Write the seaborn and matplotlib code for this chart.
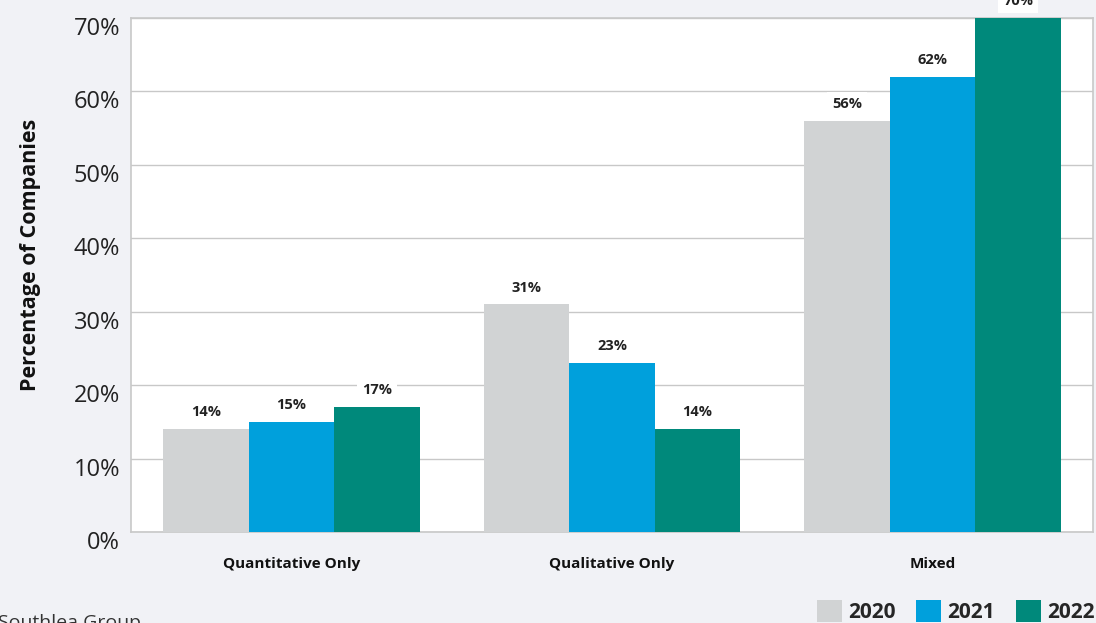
import matplotlib
matplotlib.use("Agg")
import matplotlib.pyplot as plt
import matplotlib.transforms as mtrans
import seaborn as sns
import pandas as pd
from matplotlib.patches import Patch

categories = ["Quantitative Only", "Qualitative Only", "Mixed"]
years = ["2020", "2021", "2022"]
values_2020 = [14, 31, 56]
values_2021 = [15, 23, 62]
values_2022 = [17, 14, 70]
yticks = [0, 10, 20, 30, 40, 50, 60, 70]
colors = ["#d1d3d4", "#00a0dc", "#00897b"]

rows = []
for yr, vals in zip(years, [values_2020, values_2021, values_2022]):
    for c, v in zip(categories, vals):
        rows.append({"Category": c, "Year": yr, "Value": v})
df = pd.DataFrame(rows)

sns.set_theme(style="white")
plt.rcParams["font.family"] = ["Open Sans", "DejaVu Sans"]

bg = "#f1f2f6"
fig = plt.figure(figsize=(10.96, 6.23), dpi=100, facecolor=bg)
ax = fig.add_axes([131/1096, 1 - 532/623, (1093-131)/1096, (532-18)/623])
ax.set_facecolor("white")

sns.barplot(data=df, x="Category", y="Value", hue="Year", palette=colors,
            width=0.8, ax=ax, legend=False, saturation=1, zorder=3,
            linewidth=0, edgecolor="none")
ax.set_xlim(-0.5, 2.5)
ax.set_ylim(0, 70)
ax.set_yticks(yticks)
ax.set_yticklabels([f"{t}%" for t in yticks], fontsize=17, color="#222222")
ax.tick_params(axis="y", length=0, pad=8)
ax.tick_params(axis="x", length=0, pad=18)
offset = mtrans.ScaledTranslation(0, -8/100, fig.dpi_scale_trans)
for lab in ax.get_yticklabels():
    lab.set_transform(lab.get_transform() + offset)
for lab in ax.get_xticklabels():
    lab.set_fontweight("bold")
    lab.set_fontsize(11)
    lab.set_color("#111111")
ax.yaxis.grid(True, color="#c8c8c8", linewidth=1, zorder=0)
ax.set_axisbelow(True)
for s in ax.spines.values():
    s.set_color("#c8c8c8")
    s.set_linewidth(1.2)
ax.set_xlabel("")
ax.set_ylabel("Percentage of Companies", fontsize=15.5, fontweight="bold",
              color="#111111")
ax.yaxis.set_label_coords(-0.094, 0.54)

for cont in ax.containers:
    for bar in cont:
        h = bar.get_height()
        ax.annotate(f"{h:.0f}%", (bar.get_x() + bar.get_width()/2, h),
                    xytext=(0, 7), textcoords="offset points",
                    ha="center", va="bottom", fontsize=10.5, fontweight="bold",
                    color="#222222", annotation_clip=False, zorder=5,
                    bbox=dict(boxstyle="square,pad=0.35", fc="white", ec="none"))

handles = [Patch(facecolor=c, edgecolor="none") for c in colors]
fig.legend(handles, years, loc="lower right", bbox_to_anchor=(1.016, -0.03),
           ncol=3, frameon=False, prop={"weight": "bold", "size": 15},
           handlelength=1.2, handleheight=1.2, handletextpad=0.3,
           columnspacing=1.0)

fig.text(-0.002, -0.014, "Southlea Group", fontsize=14, color="#333333",
         ha="left", va="bottom")

fig.savefig("out.png", dpi=100, facecolor=bg)
